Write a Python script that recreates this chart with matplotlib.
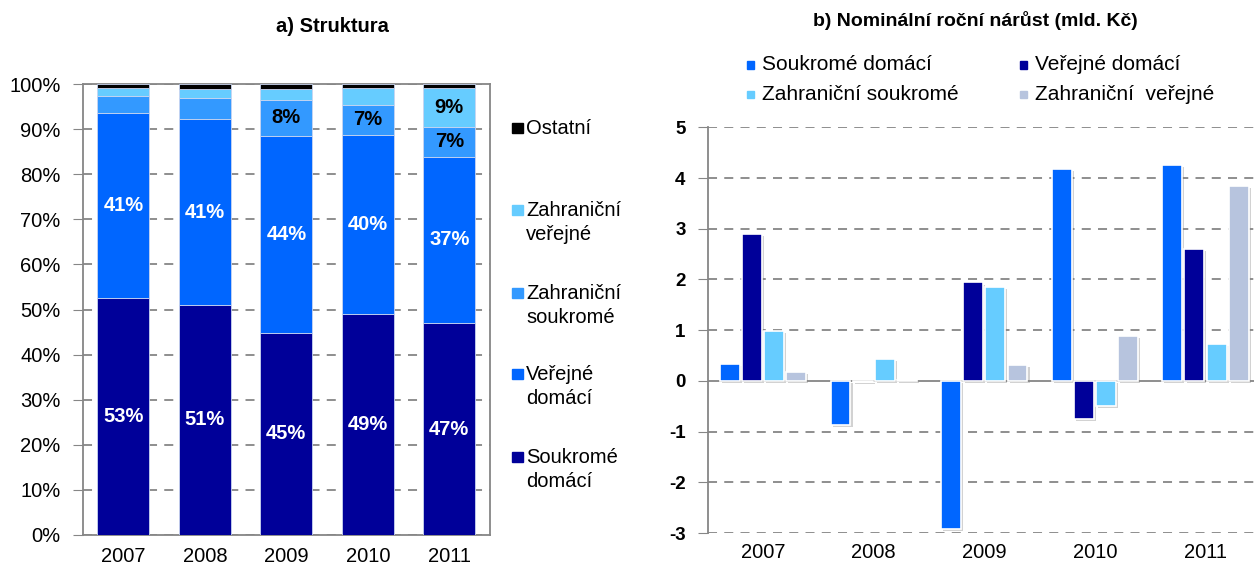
import matplotlib
matplotlib.use("Agg")
import matplotlib.pyplot as plt
import matplotlib.patheffects as pe
from matplotlib.patches import Rectangle
from matplotlib.ticker import FuncFormatter
import numpy as np

plt.rcParams['font.family'] = ['Liberation Sans', 'DejaVu Sans']
plt.rcParams['axes.unicode_minus'] = False

years = ['2007', '2008', '2009', '2010', '2011']

# a) Struktura (podíly v %)
struct_legend = ['Soukromé\ndomácí', 'Veřejné\ndomácí', 'Zahraniční\nsoukromé',
                 'Zahraniční\nveřejné', 'Ostatní']
soukr_dom = [52.6, 51.0, 44.8, 49.0, 47.0]
verej_dom = [41.0, 41.2, 43.7, 39.8, 36.9]
zahr_soukr = [3.7, 4.8, 8.0, 6.6, 6.6]
zahr_verej = [1.9, 1.8, 2.3, 3.8, 8.6]
ostatni = [0.8, 1.2, 1.2, 0.8, 0.9]
struct_colors = ['#000099', '#0066FF', '#3399FF', '#66CCFF', '#000000']
label_colors = ['white', 'white', 'black', 'black', 'black']

# b) Nominální roční nárůst (mld. Kč)
growth_names = ['Soukromé domácí', 'Veřejné domácí', 'Zahraniční soukromé',
                'Zahraniční  veřejné']
g_soukr_dom = [0.33, -0.87, -2.92, 4.17, 4.25]
g_verej_dom = [2.90, -0.02, 1.94, -0.76, 2.61]
g_zahr_soukr = [0.99, 0.44, 1.86, -0.49, 0.72]
g_zahr_verej = [0.18, 0.02, 0.31, 0.89, 3.85]
growth_colors = ['#0066FF', '#000099', '#66CCFF', '#B7C4DE']

W, H = 1254, 568
GRID = '#868686'
FS = 14.5


def fx(px):
    return px / W


def fy(py):
    return 1 - py / H


fig = plt.figure(figsize=(W / 100, H / 100), dpi=100)

# ---- left chart ----
ax1 = fig.add_axes([fx(82.7), fy(535), fx(490) - fx(82.7), fy(84) - fy(535)])
x = np.arange(len(years))
series = [soukr_dom, verej_dom, zahr_soukr, zahr_verej, ostatni]
bottom = np.zeros(len(years))
for vals, col, lc in zip(series, struct_colors, label_colors):
    v = np.array(vals)
    ax1.bar(x, v, 0.64, bottom=bottom, color=col, edgecolor='#C8D4F0',
            linewidth=0.6, zorder=3)
    for xi, vi, bi in zip(x, v, bottom):
        if vi >= 6.5:
            ax1.text(xi, bi + vi / 2, f'{vi:.0f}%', ha='center', va='center',
                     color=lc, fontsize=FS, fontweight='bold', zorder=4)
    bottom += v

ax1.set_xlim(-0.5, len(years) - 0.5)
ax1.set_ylim(0, 100)
ax1.set_yticks(np.arange(0, 101, 10))
ax1.yaxis.set_major_formatter(FuncFormatter(lambda v, p: f'{v:.0f}%'))
ax1.set_xticks(x)
ax1.set_xticklabels(years)
ax1.tick_params(axis='y', length=7, color=GRID, pad=9, labelsize=FS)
ax1.tick_params(axis='x', length=0, pad=9, labelsize=FS)
ax1.grid(axis='y', color=GRID, linestyle=(0, (5, 4)), linewidth=1.3, zorder=0)
for s in ax1.spines.values():
    s.set_color(GRID)
    s.set_linewidth(1.3)
fig.text(fx(332), fy(27), 'a) Struktura', fontsize=FS, fontweight='bold',
         ha='center', va='center')

# manual legend for left chart (marker aligned with first line)
leg_y = [457, 374, 293, 210, 128]
for name, col, yy in zip(struct_legend, struct_colors, leg_y):
    fig.add_artist(Rectangle((fx(512), fy(yy + 5.3)), fx(10.5), fy(0) - fy(10.5),
                             transform=fig.transFigure, color=col))
    fig.text(fx(526), fy(yy - 9), name, fontsize=FS, ha='left',
             va='top', linespacing=1.35)

# ---- right chart ----
ax2 = fig.add_axes([fx(707.8), fy(533), fx(1260.8) - fx(707.8), fy(127.3) - fy(533)])
gseries = [g_soukr_dom, g_verej_dom, g_zahr_soukr, g_zahr_verej]
bw = 0.18
offsets = [-0.3, -0.1, 0.1, 0.3]
shadow = [pe.SimplePatchShadow(offset=(1.5, -1.5), shadow_rgbFace='#808080', alpha=0.35),
          pe.Normal()]
for vals, col, off in zip(gseries, growth_colors, offsets):
    ax2.bar(x + off, vals, bw, color=col, edgecolor='white', linewidth=1.2,
            zorder=3, path_effects=shadow)

ax2.set_xlim(-0.5, len(years) - 0.5)
ax2.set_ylim(-3, 5)
ax2.set_yticks(np.arange(-3, 6, 1))
ax2.set_xticks(x)
ax2.set_xticklabels(years)
ax2.tick_params(axis='y', length=7, color=GRID, pad=9, labelsize=FS - 1)
for lab in ax2.get_yticklabels():
    lab.set_fontweight('bold')
ax2.tick_params(axis='x', length=0, pad=7, labelsize=FS)
for yv in range(-3, 6):
    if yv != 0:
        ax2.axhline(yv, color=GRID, linestyle=(0, (5, 4)), linewidth=1.3, zorder=0)
ax2.axhline(0, color=GRID, linewidth=1.3, zorder=2)
for side in ['top', 'right', 'bottom']:
    ax2.spines[side].set_visible(False)
ax2.spines['left'].set_color(GRID)
ax2.spines['left'].set_linewidth(1.3)

fig.text(fx(975), fy(20), 'b) Nominální roční nárůst (mld. Kč)', fontsize=FS - 0.5,
         fontweight='bold', ha='center', va='center')

# legend for right chart, two columns
leg_pos = [(750, 65), (1023.5, 65), (750, 94.3), (1023.5, 94.3)]
for name, col, (lx, ly) in zip(growth_names, growth_colors, leg_pos):
    fig.add_artist(Rectangle((fx(lx - 3.5), fy(ly + 3.5)), fx(7), fy(0) - fy(7),
                             transform=fig.transFigure, color=col))
    fig.text(fx(lx + 11.5), fy(ly), name, fontsize=FS + 0.5, ha='left', va='center')

fig.savefig('out.png', dpi=100)
